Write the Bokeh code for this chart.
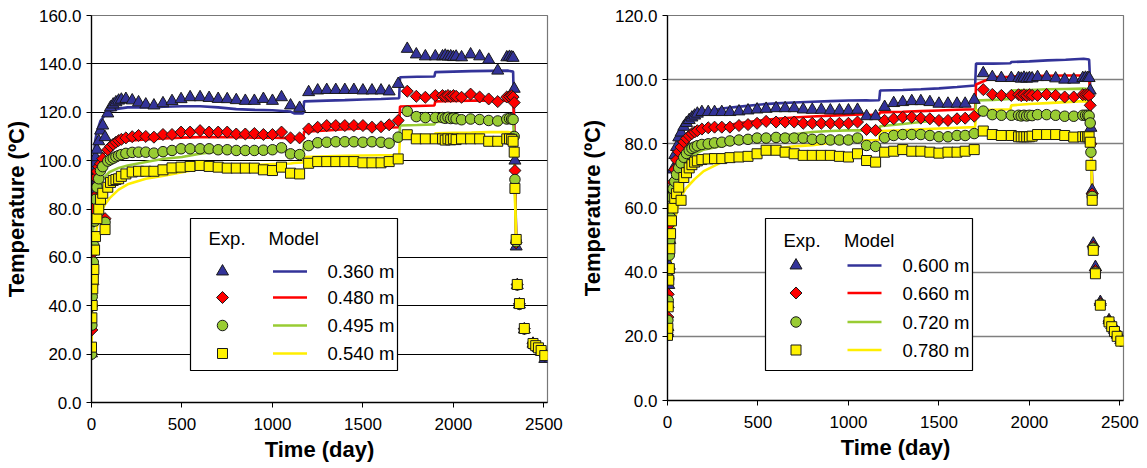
import math
from bokeh.plotting import figure
from bokeh.layouts import row
from bokeh.models import Range1d, FixedTicker, NumeralTickFormatter, Label
from bokeh.embed import file_html
from bokeh.resources import INLINE

# ---------------- data ----------------
days = [0, 2, 4, 7, 10, 13, 17, 22, 30, 40,
        50, 62, 75, 90, 105, 120, 135, 150, 165, 190,
        225, 260, 300, 345, 395, 445, 495, 545, 600, 650,
        700, 750, 800, 850, 900, 950, 1000, 1050, 1100, 1150,
        1200, 1250, 1300, 1350, 1400, 1450, 1500, 1550, 1600, 1645,
        1695, 1745, 1795, 1845, 1900, 1940, 1955, 1970, 1985, 2000,
        2015, 2045, 2095, 2145, 2195, 2245, 2295, 2310, 2322, 2330,
        2336, 2340, 2347, 2353, 2365, 2392, 2440, 2455, 2470, 2485,
        2505]

exp_0360 = [20.3, 55, 75, 88, 93, 96, 99, 101.4, 104.5, 108,
            112.4, 114.5, 109.7, 119.5, 122, 123.2, 124.1, 124.8, 125.2, 125.5,
            124.9, 124.1, 123.2, 122.8, 123.7, 124.6, 125.4, 126.2, 126.2, 125.9,
            125.5, 125.4, 125.0, 124.7, 124.7, 125.5, 124.7, 126.2, 122.8, 121.8,
            128.3, 129.0, 129.2, 129.2, 129.2, 129.2, 129.0, 129.0, 129.0, 128.6,
            131.7, 146.2, 143.9, 143.1, 143.1, 143.1, 143.4, 143.0, 143.1, 142.8,
            143.0, 142.7, 143.9, 143.1, 141.7, 137.2, 142.7, 142.9, 142.7, 142.5,
            129.7, 100.0, 64.5, 48.5, 40.5, 30.2, 24.3, 23.5, 22.5, 21.0,
            18.0]
exp_0480 = [20.0, 30.0, 40.0, 48.8, 62.0, 75.0, 85.0, 93.0, 95.5, 97.5,
            98.7, 100.8, 76.0, 104.5, 105.8, 106.8, 107.6, 108.3, 108.8, 109.4,
            109.9, 110.4, 110.0, 109.7, 110.8, 110.8, 111.8, 111.8, 112.4, 111.8,
            111.8, 111.8, 111.0, 111.0, 111.2, 110.8, 110.8, 111.8, 109.4, 109.4,
            113.1, 113.8, 114.5, 114.5, 114.5, 114.5, 114.5, 113.8, 114.0, 114.8,
            116.6, 128.7, 126.6, 126.2, 126.9, 126.9, 126.5, 126.9, 126.5, 126.9,
            126.6, 126.2, 127.5, 126.3, 125.5, 124.4, 126.3, 126.5, 126.8, 126.3,
            124.0, 95.9, 66.0, 48.8, 40.8, 30.5, 24.5, 23.6, 22.7, 21.5,
            19.5]
exp_0495 = [20.0, 32.0, 43.8, 52.0, 58.0, 64.9, 75.0, 84.0, 89.0, 92.5,
            95.9, 97.5, 74.5, 99.8, 100.4, 101.0, 101.6, 102.1, 102.5, 103.0,
            103.4, 103.5, 103.5, 103.1, 103.7, 104.2, 104.9, 104.9, 104.9, 104.9,
            104.5, 104.5, 104.2, 104.2, 104.2, 104.3, 104.5, 105.3, 102.8, 102.5,
            106.2, 107.4, 107.6, 107.8, 107.8, 107.8, 107.6, 107.8, 107.6, 107.2,
            109.7, 120.4, 118.2, 117.8, 117.8, 117.8, 117.5, 117.9, 117.4, 117.6,
            117.3, 116.9, 117.2, 117.0, 116.6, 116.4, 117.2, 117.4, 117.2, 117.0,
            110.0, 92.2, 66.5, 48.6, 40.6, 30.4, 24.4, 23.5, 22.6, 21.3,
            19.4]
exp_0540 = [22.9, 35.0, 40.1, 47.0, 51.0, 55.0, 63.0, 68.6, 76.0, 80.0,
            84.0, 86.5, 71.5, 89.0, 91.0, 91.8, 92.2, 92.5, 93.5, 94.5,
            95.3, 95.6, 95.6, 95.6, 96.2, 97.0, 97.3, 97.6, 98.0, 97.6,
            97.3, 96.9, 96.9, 96.9, 96.9, 96.2, 95.9, 97.3, 94.8, 94.5,
            98.9, 99.6, 99.6, 99.6, 99.6, 99.6, 99.1, 99.1, 99.1, 99.6,
            100.7, 110.7, 109.0, 109.0, 109.0, 109.0, 108.5, 109.0, 108.6, 109.0,
            108.7, 109.0, 109.0, 109.0, 108.0, 108.0, 109.0, 109.0, 108.8, 108.0,
            103.5, 88.5, 67.4, 48.8, 40.9, 30.6, 24.4, 23.5, 22.6, 21.5,
            19.4]

exp_0600 = [21.0, 22.9, 30.0, 36.0, 42.0, 50.0, 58.0, 66.0, 72.0, 76.5,
            79.0, 82.0, 83.5, 85.3, 86.5, 87.4, 88.2, 88.8, 89.4, 89.9,
            89.9, 89.9, 89.9, 89.9, 90.1, 90.4, 90.7, 90.9, 91.1, 91.1,
            91.1, 90.7, 90.6, 90.6, 90.4, 90.4, 90.4, 90.6, 88.6, 88.6,
            91.5, 92.7, 93.0, 93.3, 93.3, 93.0, 92.5, 92.5, 92.5, 92.5,
            93.7, 102.0, 100.8, 100.5, 100.5, 100.5, 100.3, 100.6, 100.3, 100.5,
            100.4, 100.8, 100.8, 100.4, 100.0, 100.0, 100.5, 100.6, 100.5, 100.5,
            96.6, 85.0, 65.5, 48.9, 41.6, 30.7, 25.0, 23.5, 22.0, 20.5,
            18.8]
exp_0660 = [20.5, 26.0, 33.1, 40.0, 49.4, 55.0, 60.0, 64.0, 68.0, 72.0,
            75.0, 77.5, 79.0, 80.6, 81.7, 82.5, 83.2, 83.7, 84.1, 84.6,
            85.0, 85.2, 85.2, 85.2, 85.7, 86.0, 86.4, 87.0, 86.8, 86.8,
            86.8, 86.4, 86.4, 86.4, 86.4, 86.4, 86.4, 86.8, 84.5, 84.2,
            87.3, 87.8, 88.3, 88.3, 88.0, 87.8, 87.3, 87.3, 87.8, 88.0,
            88.6, 96.9, 95.4, 95.1, 95.1, 95.3, 95.0, 95.3, 95.0, 95.3,
            95.1, 95.1, 95.4, 95.1, 94.6, 94.6, 95.3, 95.3, 95.3, 95.0,
            92.0, 80.0, 64.4, 48.0, 40.5, 30.2, 24.7, 23.3, 21.8, 20.3,
            18.6]
exp_0720 = [20.3, 25.0, 31.2, 38.0, 45.3, 50.0, 57.0, 63.4, 66.0, 68.3,
            70.5, 72.5, 74.0, 75.8, 77.0, 78.0, 78.6, 79.0, 79.4, 79.8,
            80.0, 80.3, 80.5, 80.9, 81.2, 81.4, 81.8, 81.8, 82.0, 81.8,
            81.8, 81.8, 81.4, 81.4, 81.2, 81.2, 81.2, 81.8, 79.5, 79.2,
            81.9, 82.6, 82.9, 82.9, 82.9, 82.6, 82.2, 82.2, 82.6, 82.6,
            83.2, 90.2, 89.1, 88.9, 88.9, 88.9, 88.7, 88.9, 88.7, 88.9,
            88.8, 89.1, 89.1, 88.9, 88.6, 88.6, 88.9, 88.9, 88.9, 88.7,
            86.5, 77.4, 63.6, 47.5, 40.0, 30.0, 24.5, 23.2, 21.7, 20.2,
            18.6]
exp_0780 = [20.3, 22.5, 29.2, 37.5, 41.1, 47.3, 52.0, 56.0, 60.0, 63.0,
            64.5, 66.5, 62.4, 69.5, 71.0, 72.5, 73.5, 74.3, 74.7, 75.1,
            75.3, 75.4, 75.4, 75.7, 75.9, 76.1, 76.9, 78.0, 78.0, 77.4,
            76.9, 76.4, 76.4, 76.4, 76.4, 76.1, 75.9, 76.9, 74.8, 74.3,
            77.4, 77.7, 78.2, 77.7, 77.7, 77.4, 77.1, 77.4, 77.4, 77.7,
            78.2, 84.0, 82.9, 82.6, 82.6, 82.2, 82.2, 82.2, 82.2, 82.2,
            82.4, 82.9, 82.9, 82.9, 82.6, 82.1, 82.2, 82.2, 82.2, 82.2,
            80.5, 73.3, 62.4, 46.8, 39.5, 29.7, 24.5, 23.0, 21.5, 20.0,
            18.5]

model_days = [0, 2, 5, 10, 20, 30, 50, 75, 100, 150,
              200, 300, 400, 500, 600, 700, 800, 900, 1000, 1100,
              1120, 1170, 1175, 1300, 1400, 1500, 1600, 1700, 1705, 1800,
              1895, 1900, 2000, 2100, 2200, 2300, 2330, 2335, 2340, 2348]

model_0360 = [20, 60, 85, 98, 108, 112, 116.5, 119, 120.5, 121.5,
              122, 122, 122.3, 122.5, 122.5, 122, 121.3, 121, 120.8, 120.3,
              119.5, 119.5, 124.5, 124.8, 125, 125.3, 125.5, 125.8, 134.5, 134.7,
              134.8, 136.6, 136.8, 137, 137.1, 137.2, 136.8, 120, 95, 64]
model_0480 = [20, 45, 68, 82, 92, 96, 100.5, 103.5, 105.5, 107.3,
              108.2, 108.8, 109.2, 109.5, 109.7, 109.7, 109.7, 109.5, 109.5, 109.3,
              109, 109, 112, 112.5, 113, 113.3, 113.6, 113.8, 122.4, 122.6,
              122.8, 124.5, 124.7, 124.8, 124.8, 124.8, 124.5, 118, 92, 64]
model_0495 = [20, 38, 58, 72, 81, 85.5, 90.5, 93.5, 95.3, 97,
              98, 99.4, 100.8, 101.5, 102.9, 103.8, 104.2, 104.2, 104.2, 104,
              103.8, 103.8, 107.5, 107.6, 107.7, 107.8, 107.9, 108, 114.5, 114.7,
              115, 116, 116.2, 116.4, 116.5, 116.5, 116.3, 110, 88, 64]
model_0540 = [20, 28, 42, 56, 67, 72.5, 78.5, 82, 84.5, 88,
              90.2, 92.5, 93.8, 95.2, 96.5, 97.3, 97.8, 98.2, 98.6, 98.8,
              99, 99.2, 101.5, 101.8, 102, 102.1, 102.2, 102.3, 110, 110.3,
              110.5, 111.3, 111.5, 111.6, 111.8, 111.8, 111.5, 105, 85, 64]

model_0600 = [20, 28, 40, 52, 63, 70, 77.5, 82.5, 85.5, 88.3,
              89.8, 91, 91.6, 92.2, 92.6, 92.9, 93.1, 93.3, 93.5, 93.6,
              93.5, 93.6, 96.6, 96.8, 97, 97.3, 97.7, 98.2, 105, 105,
              105.1, 105.5, 105.7, 106, 106.2, 106.5, 106.3, 100, 85, 64]
model_0660 = [20, 27, 37, 48, 59, 65.5, 73, 78, 81, 83.5,
              84.5, 85.5, 86.5, 87.2, 87.8, 88.2, 88.5, 88.8, 89, 89.2,
              89, 89.2, 89.8, 90, 90.2, 90.4, 90.6, 90.8, 98.5, 100.8,
              100.9, 101, 101.1, 101.2, 101.3, 101.3, 101, 96, 82, 64]
model_0720 = [20, 25, 33, 42, 53, 59, 66, 71, 74, 76.8,
              78.2, 79.3, 80.6, 81.6, 82.5, 83, 83.7, 84, 84.2, 84.2,
              84, 84, 85.5, 86.2, 86.8, 87.4, 88, 88.5, 93.5, 93.7,
              94, 96.6, 96.8, 97, 97.1, 97.2, 97, 92, 80, 64]
model_0780 = [20, 23, 28, 35, 45, 52, 59, 63.5, 66, 69,
              71.5, 74.3, 76.5, 77.7, 78.5, 79.2, 79.6, 80.3, 80.9, 81.1,
              81.1, 81.2, 84, 84.2, 84.5, 84.8, 85, 85.2, 90.4, 90.6,
              90.8, 92, 92.4, 92.7, 93, 93.3, 93, 88, 76, 64]

left_labels = ["0.360 m", "0.480 m", "0.495 m", "0.540 m"]
right_labels = ["0.600 m", "0.660 m", "0.720 m", "0.780 m"]

x_ticks = [0, 500, 1000, 1500, 2000, 2500]
left_y_ticks = [0, 20, 40, 60, 80, 100, 120, 140, 160]
right_y_ticks = [0, 20, 40, 60, 80, 100, 120]

# ---------------- styles ----------------
FONT = "Liberation Sans"
FILL = ["#333399", "#FF0000", "#99CC33", "#FFF200"]
LINE = ["#333399", "#FF0000", "#99CC33", "#FFEE00"]
MARK = [("triangle", 12, 0.0), ("square", 8.5, math.pi / 4),
        ("circle", 10.5, 0.0), ("square", 10, 0.0)]
FRAME_W = 456
LEG_FONT = "18.5px"

LEG_L = dict(box=(99, 306, 32, 184), title_y=164, exp_x=117, model_x=177,
             rows=[131, 105, 77, 49], mark_x=131, line_x=(181.5, 215.5), label_x=236)
LEG_R = dict(box=(98, 305, 30, 182), title_y=160, exp_x=116, model_x=176.5,
             rows=[135, 107.5, 78.5, 50.5], mark_x=128.5, line_x=(180, 214), label_x=235)


def panel(exp_series, model_series, labels, y_max, y_ticks, frame_h,
          b_left, b_right, b_bottom, grid_color, grid_width, leg):
    p = figure(frame_width=FRAME_W, frame_height=frame_h,
               x_range=Range1d(0, 2520), y_range=Range1d(0, y_max),
               output_backend="svg", toolbar_location=None,
               min_border_left=b_left, min_border_right=b_right,
               min_border_top=15, min_border_bottom=b_bottom,
               background_fill_color="white", border_fill_color="white")
    p.extra_x_ranges = {"px": Range1d(0, FRAME_W)}
    p.extra_y_ranges = {"py": Range1d(0, frame_h)}

    p.xaxis.ticker = FixedTicker(ticks=x_ticks)
    p.yaxis.ticker = FixedTicker(ticks=y_ticks)
    p.xaxis.formatter = NumeralTickFormatter(format="0")
    p.yaxis.formatter = NumeralTickFormatter(format="0.0")
    for ax in (p.xaxis, p.yaxis):
        ax.major_label_text_font = FONT
        ax.major_label_text_font_size = "17px"
        ax.major_label_text_color = "black"
        ax.axis_label_text_font = FONT
        ax.axis_label_text_font_size = "22px"
        ax.axis_label_text_font_style = "bold"
        ax.axis_label_text_color = "black"
        ax.axis_line_color = "black"
        ax.axis_line_width = 1.3
        ax.major_tick_line_color = "black"
        ax.major_tick_out = 5
        ax.major_tick_in = 0
        ax.minor_tick_line_color = None
    p.xaxis.axis_label = "Time (day)"
    p.yaxis.axis_label = "Temperature (\u00baC)"
    p.xaxis.major_label_standoff = 10
    p.yaxis.major_label_standoff = 5
    p.xaxis.axis_label_standoff = 4
    p.yaxis.axis_label_standoff = 7

    p.xgrid.visible = False
    p.ygrid.grid_line_color = grid_color
    p.ygrid.grid_line_width = grid_width
    p.outline_line_color = "#777777"
    p.outline_line_width = 1.2

    # model curves
    for vals, col in zip(model_series, LINE):
        p.line(model_days, vals, line_color=col, line_width=2.6)
    # experimental points
    for vals, col, (mk, sz, ang) in zip(exp_series, FILL, MARK):
        p.scatter(days, vals, marker=mk, size=sz, angle=ang, fill_color=col,
                  line_color="#1a1a1a", line_width=1)

    # legend (placed in frame pixel coordinates)
    l, r, b, t = leg["box"]
    p.quad(left=[l], right=[r], bottom=[b], top=[t], fill_color="white",
           line_color="black", line_width=1.2, x_range_name="px",
           y_range_name="py", level="overlay")
    for txt, xx in (("Exp.", leg["exp_x"]), ("Model", leg["model_x"])):
        p.add_layout(Label(x=xx, y=leg["title_y"], text=txt, x_range_name="px",
                           y_range_name="py", text_font=FONT,
                           text_font_size=LEG_FONT, text_baseline="middle",
                           text_align="left", text_color="black", level="overlay"))
    x0, x1 = leg["line_x"]
    for i, yy in enumerate(leg["rows"]):
        mk, sz, ang = MARK[i]
        p.scatter([leg["mark_x"]], [yy], marker=mk, size=sz, angle=ang,
                  fill_color=FILL[i], line_color="#1a1a1a", line_width=1,
                  x_range_name="px", y_range_name="py", level="overlay")
        p.segment(x0=[x0], y0=[yy], x1=[x1], y1=[yy], line_color=LINE[i],
                  line_width=2.6, x_range_name="px", y_range_name="py",
                  level="overlay")
        p.add_layout(Label(x=leg["label_x"], y=yy, text=labels[i],
                           x_range_name="px", y_range_name="py", text_font=FONT,
                           text_font_size=LEG_FONT, text_baseline="middle",
                           text_align="left", text_color="black", level="overlay"))
    return p


p_left = panel([exp_0360, exp_0480, exp_0495, exp_0540],
               [model_0360, model_0480, model_0495, model_0540],
               left_labels, 160, left_y_ticks, 387, 91, 26, 66,
               "#000000", 1, LEG_L)
p_right = panel([exp_0600, exp_0660, exp_0720, exp_0780],
                [model_0600, model_0660, model_0720, model_0780],
                right_labels, 120, right_y_ticks, 385, 94, 24, 68,
                "#7f7f7f", 1.6, LEG_R)

layout = row(p_left, p_right, spacing=0)
open("out.html", "w").write(file_html(layout, INLINE))
